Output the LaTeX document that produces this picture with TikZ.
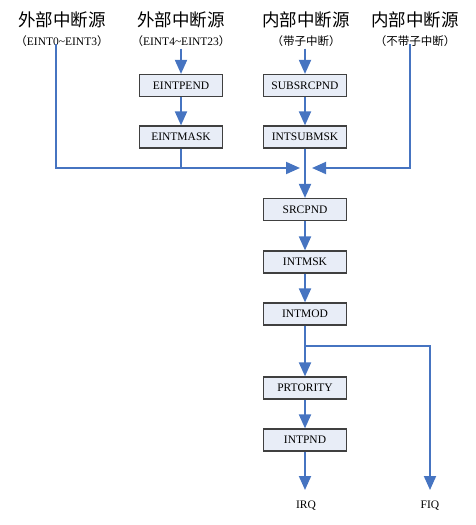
\documentclass[tikz,border=0pt]{standalone}
\usepackage{fontspec}
\setmainfont{Liberation Serif}
\newfontfamily\cjk{Noto Sans CJK SC}
\usetikzlibrary{arrows.meta}
\definecolor{flowblue}{RGB}{70,116,193}
\definecolor{regfill}{RGB}{232,237,247}
\tikzset{
  reg/.style={draw=black!75, line width=1.2pt, fill=regfill, minimum width=83pt,
    minimum height=22pt, inner sep=0pt, font=\fontsize{11.5}{12}\selectfont},
  srchead/.style={font=\cjk\fontsize{17.5}{18}\selectfont, inner sep=0pt},
  srcsub/.style={font=\fontsize{11.5}{12}\selectfont, inner sep=0pt},
  flow/.style={draw=flowblue, line width=1.9pt, -{Triangle[length=14pt, width=12pt]}},
  wire/.style={draw=flowblue, line width=1.9pt}
}
\begin{document}
\begin{tikzpicture}[x=1pt, y=-1pt]
\useasboundingbox (0,0) rectangle (475,525);

\node[srchead] (head1) at (62,20) {外部中断源};
\node[srchead] (head2) at (181,20) {外部中断源};
\node[srchead] (head3) at (306,20) {内部中断源};
\node[srchead] (head4) at (415,20) {内部中断源};
\node[srcsub] (sub1) at (62,41) {{\cjk （}EINT0\textasciitilde EINT3{\cjk ）}};
\node[srcsub] (sub2) at (181,41) {{\cjk （}EINT4\textasciitilde EINT23{\cjk ）}};
\node[srcsub] (sub3) at (306,41) {\cjk （带子中断）};
\node[srcsub] (sub4) at (415,41) {\cjk （不带子中断）};

\node[reg] (eintpend) at (181,85.5) {EINTPEND};
\node[reg] (eintmask) at (181,137) {EINTMASK};
\node[reg] (subsrcpnd) at (305,85.5) {SUBSRCPND};
\node[reg] (intsubmsk) at (305,137) {INTSUBMSK};
\node[reg] (srcpnd) at (305,209.5) {SRCPND};
\node[reg] (intmsk) at (305,262) {INTMSK};
\node[reg] (intmod) at (305,314) {INTMOD};
\node[reg] (prtority) at (305,388) {PRTORITY};
\node[reg] (intpnd) at (305,440) {INTPND};

\node[font=\fontsize{11.5}{12}\selectfont] (irq) at (306,506) {IRQ};
\node[font=\fontsize{11.5}{12}\selectfont] (fiq) at (430,506) {FIQ};

\coordinate (out1) at (56,44);
\coordinate (out4) at (410,44);
\coordinate (low1) at (56,168);
\coordinate (low4) at (410,168);
\coordinate (mid2) at (181,168);
\coordinate (joinl) at (300,168);
\coordinate (joinr) at (312,168);
\coordinate (split) at (305,346);
\coordinate (fiqturn) at (430,346);
\coordinate (irqend) at (305,490);
\coordinate (fiqend) at (430,490);

\draw[flow] (sub2.south) ++(0,2) -- (eintpend.north);
\draw[flow] (eintpend) -- (eintmask);
\draw[flow] (sub3.south -| subsrcpnd.north) ++(0,2) -- (subsrcpnd.north);
\draw[flow] (subsrcpnd) -- (intsubmsk);
\draw[wire] (eintmask.south) -- (mid2);
\draw[flow] (out1) -- (low1) -- (joinl);
\draw[flow] (out4) -- (low4) -- (joinr);
\draw[flow] (intsubmsk) -- (srcpnd);
\draw[flow] (srcpnd) -- (intmsk);
\draw[flow] (intmsk) -- (intmod);
\draw[flow] (intmod) -- (prtority);
\draw[flow] (prtority) -- (intpnd);
\draw[flow] (intpnd) -- (irqend);
\draw[flow] (split) -- (fiqturn) -- (fiqend);
\end{tikzpicture}
\end{document}
